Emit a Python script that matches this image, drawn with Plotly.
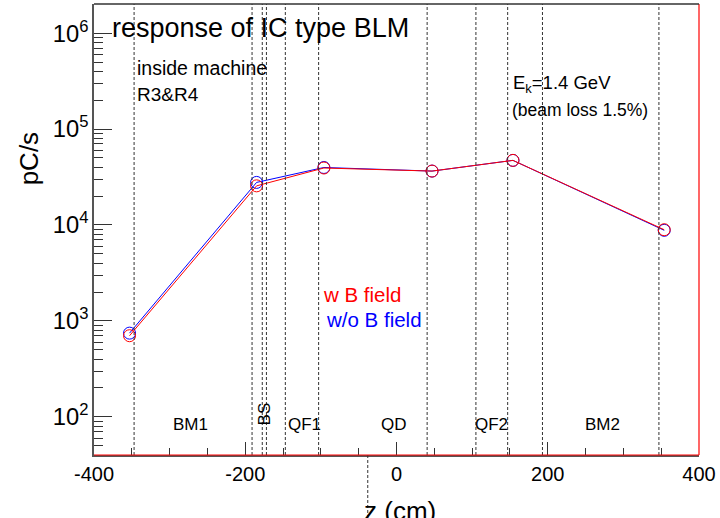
import plotly.graph_objects as go

# measured positions (cm) and BLM response (pC/s)
z_pos = [-353, -185, -96, 47, 154, 354]
resp_wB = [700, 25600, 39300, 36500, 47200, 8930]
resp_woB = [745, 27800, 39800, 36500, 47200, 8800]

# element boundaries (dotted lines)
boundaries = [-347, -191, -177.5, -172, -147, -103, 40.5, 105, 147, 193, 347]
# region labels
regions = ['BM1', 'QF1', 'QD', 'QF2', 'BM2']
region_z = [-273, -122, -3, 125, 272]

x_ticks = [-400, -200, 0, 200, 400]
x_ticklabels = ['-400', '-200', '0', '200', '400']

FONT = "Liberation Sans, Arial, sans-serif"

fig = go.Figure()

for b in boundaries:
    fig.add_shape(type='line', x0=b, x1=b, y0=0, y1=1, xref='x', yref='paper',
                  line=dict(color='#333333', width=1, dash='3px,2px'))
# stray dotted line below the axis
fig.add_shape(type='line', x0=-38, x1=-38, y0=0, y1=-0.16, xref='x', yref='paper',
              line=dict(color='#333333', width=1, dash='3px,2px'))

fig.add_trace(go.Scatter(x=z_pos, y=resp_woB, mode='lines+markers', name='w/o B field',
                         line=dict(color='blue', width=1),
                         marker=dict(symbol='circle-open', size=12, color='blue', line=dict(width=1))))
fig.add_trace(go.Scatter(x=z_pos, y=resp_wB, mode='lines+markers', name='w B field',
                         line=dict(color='red', width=1),
                         marker=dict(symbol='circle-open', size=12, color='red', line=dict(width=1))))

# red frame bits (bottom and right)
fig.add_shape(type='line', x0=0, x1=1, y0=0, y1=0, xref='paper', yref='paper',
              line=dict(color='red', width=1))
fig.add_shape(type='line', x0=1, x1=1, y0=0, y1=1, xref='paper', yref='paper',
              line=dict(color='red', width=1.2))
# top frame
fig.add_shape(type='line', x0=0, x1=1, y0=1, y1=1, xref='paper', yref='paper',
              line=dict(color='#333333', width=1.5))

ann = []
def txt(x, y, s, size=16, color='black', xanchor='left', angle=0, xref='x', yref='y'):
    ann.append(dict(x=x, y=y, text=s, showarrow=False, xref=xref, yref=yref,
                    xanchor=xanchor, yanchor='middle', textangle=angle,
                    font=dict(family=FONT, size=size, color=color)))

txt(-379, 6.055, 'response of IC type BLM', size=27)
txt(-346, 5.64, 'inside machine', size=19.5)
txt(-346, 5.36, 'R3&R4', size=19)
txt(151, 5.47, 'E<sub>k</sub>=1.4 GeV', size=18.5)
txt(150, 5.2, '(beam loss 1.5%)', size=17.5)
txt(-100, 3.27, 'w B field', size=20.5, color='red')
txt(-96, 3.01, 'w/o B field', size=20.5, color='blue')
for r, zr in zip(regions, region_z):
    txt(zr, 1.924, r, size=17, xanchor='center')
txt(-174.5, 2.03, 'BS', size=17, xanchor='center', angle=-90)
# axis titles
txt(4, -0.125, 'z (cm)', size=26, xanchor='center', yref='paper')
txt(-0.108, 0.657, 'pC/s', size=26, xanchor='center', angle=-90, xref='paper', yref='paper')

fig.update_layout(
    width=720, height=518,
    margin=dict(l=94, r=21, t=4, b=63),
    paper_bgcolor='white', plot_bgcolor='white',
    showlegend=False,
    annotations=ann,
    font=dict(family=FONT, size=20, color='black'),
)
fig.update_xaxes(range=[-400, 400], tickvals=x_ticks, ticktext=x_ticklabels, automargin=False,
                 showgrid=False, zeroline=False,
                 showline=True, linecolor='#555555', linewidth=1.5,
                 ticks='inside', ticklen=13, tickcolor='#333333',
                 minor=dict(ticks='inside', ticklen=7, dtick=50, tick0=0, tickcolor='#333333'),
                 tickfont=dict(family=FONT, size=20))
fig.update_yaxes(type='log', range=[1.601, 6.305], dtick=1, automargin=False,
                 exponentformat='power', showexponent='all',
                 showgrid=False, zeroline=False,
                 showline=True, linecolor='#555555', linewidth=1.5,
                 ticks='inside', ticklen=18, tickcolor='#333333',
                 minor=dict(ticks='inside', ticklen=9, dtick='D1', tickcolor='#333333'),
                 tickfont=dict(family=FONT, size=19))

# page body has a default 8px margin; drop it so the figure fills the window
fig.write_html("out.html", config={'displayModeBar': False},
               post_script="document.body.style.margin='0';")
